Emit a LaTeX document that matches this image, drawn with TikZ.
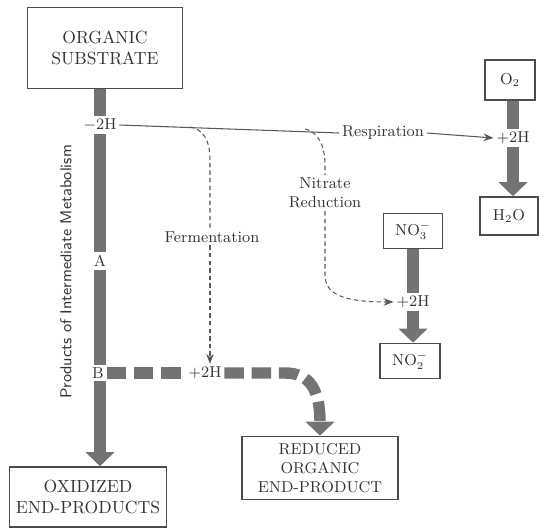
\documentclass[tikz,border=0pt]{standalone}
\usepackage{amsmath}
\usepackage{xcolor}
\usetikzlibrary{arrows.meta,positioning,calc}
\tikzset{
  chembox/.style={rectangle, draw=black!70, line width=0.9pt, align=center, text=black!80, inner sep=2pt},
  steplbl/.style={inner sep=1.5pt, text=black!80, font=\small},
  mainflow/.style={line width=6.5pt, draw=black!55},
  mainarrow/.style={mainflow, -{Triangle[width=16pt,length=8pt]}},
  redflow/.style={mainflow, dash pattern=on 11pt off 4.5pt},
  hline/.style={draw=black!65, line width=0.6pt},
  hdash/.style={hline, dash pattern=on 2.5pt off 1.8pt},
  harrow/.style={-{Stealth[length=2mm]}}
}
\begin{document}
\begin{tikzpicture}[x=0.02cm, y=-0.02cm]
\useasboundingbox (0,0) rectangle (545,529);
% boxes
\node[chembox, minimum width=3.1cm, minimum height=1.62cm] (sub) at (105,48) {ORGANIC\\SUBSTRATE};
\node[chembox, minimum width=3.14cm, minimum height=1.2cm] (oxi) at (88,497) {OXIDIZED\\END-PRODUCTS};
\node[chembox, minimum width=3.12cm, minimum height=1.26cm, font=\small] (red) at (320,468) {REDUCED\\ORGANIC\\END-PRODUCT};
\node[chembox, minimum width=1.0cm, minimum height=0.8cm, font=\small] (otwo) at (510,80) {O$_2$};
\node[chembox, minimum width=1.16cm, minimum height=0.76cm, font=\small] (water) at (509,216) {H$_2$O};
\node[chembox, minimum width=1.18cm, minimum height=0.7cm, font=\small] (nthree) at (413,231) {NO$_3^-$};
\node[chembox, minimum width=1.2cm, minimum height=0.7cm, font=\small] (ntwo) at (410,361) {NO$_2^-$};
% labels
\node[steplbl] (mh) at (100,125) {$-$2H};
\node[steplbl] (pA) at (100,261) {A};
\node[steplbl] (pB) at (98,373) {B};
\node[steplbl] (ph) at (205,373) {+2H};
\node[steplbl] (phO) at (513,138) {+2H};
\node[steplbl] (phN) at (413,302) {+2H};
\node[steplbl] (resp) at (383,133) {Respiration};
\node[steplbl] (ferm) at (212,237) {Fermentation};
\node[steplbl, align=center] (nitr) at (325,193) {Nitrate\\Reduction};
\node[steplbl, rotate=90, font=\sffamily\small] (meta) at (66,272) {Products of Intermediate Metabolism};
\coordinate (fstart) at (190,127);
\coordinate (nstart) at (305,129);
% main chain
\draw[mainflow] (sub.south -| mh) -- (mh.north);
\draw[mainflow] (mh.south) -- (pA.north);
\draw[mainflow] (pA.south) -- (pA.south |- pB.north);
\draw[mainarrow] (pA.south |- pB.south) -- (pA.south |- oxi.north);
% hydrogen transfer
\draw[hline] (mh.east) -- (resp.west);
\draw[hline, harrow] (resp.east) -- (phO.west);
\draw[hdash] (fstart) .. controls (203,129) and (210,140) .. (210,160) -- (ferm.north -| 210,0);
\draw[hdash, harrow] (ferm.south -| 210,0) -- (ph.north -| 210,0);
\draw[hdash] (nstart) .. controls (318,132) and (325,145) .. (325,165) -- (nitr.north);
\draw[hdash, harrow] (nitr.south) -- (325,275) .. controls (325,295) and (345,302) .. (phN.west);
% acceptors
\draw[mainflow] (otwo.south -| phO) -- (phO.north);
\draw[mainarrow] (phO.south) -- (phO.south |- water.north);
\draw[mainflow] (nthree.south -| phN) -- (phN.north);
\draw[mainarrow] (phN.south) -- (phN.south |- ntwo.north);
% reduced branch
\draw[redflow] (pB.east) -- (ph.west);
\draw[redflow, -{Triangle[width=16pt,length=8pt]}] (ph.east) -- (285,373) .. controls (310,373) and (320,390) .. (red.north);
\end{tikzpicture}
\end{document}
